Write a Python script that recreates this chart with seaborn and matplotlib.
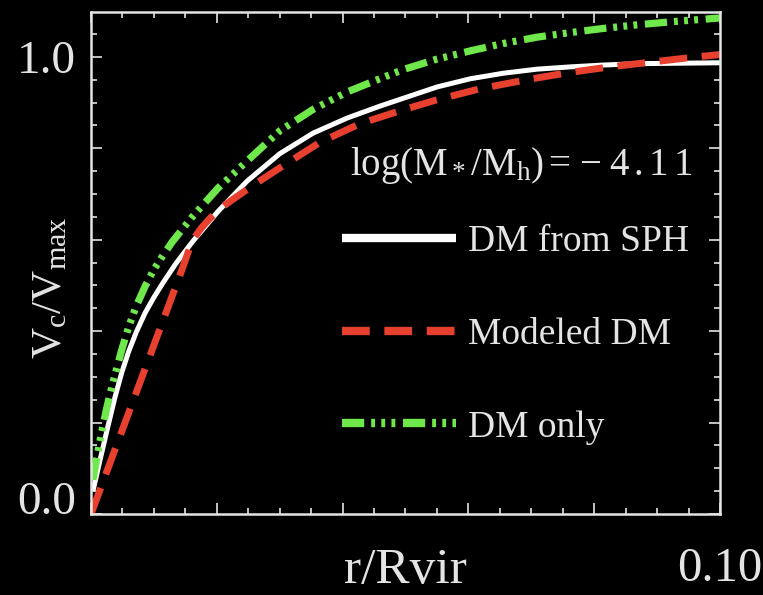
import numpy as np
import pandas as pd
import matplotlib
matplotlib.use("Agg")
import matplotlib.pyplot as plt
from matplotlib.ticker import FixedLocator, MultipleLocator, FixedFormatter
import seaborn as sns

# Circular velocity profiles, r/Rvir vs Vc/Vmax
r_sph = [0.0003, 0.0014, 0.0025, 0.0038, 0.0049, 0.0060, 0.0072, 0.0086, 0.0100,
         0.0115, 0.0135, 0.0161, 0.0202, 0.0248, 0.0300, 0.0353, 0.0407, 0.0459,
         0.0550, 0.0603, 0.0655, 0.0709, 0.0762, 0.0814, 0.0868, 0.0934, 0.1000]
v_sph = [0.050, 0.116, 0.181, 0.255, 0.310, 0.356, 0.398, 0.440, 0.474,
         0.507, 0.548, 0.595, 0.662, 0.728, 0.788, 0.833, 0.866, 0.892,
         0.934, 0.952, 0.964, 0.973, 0.978, 0.982, 0.985, 0.986, 0.987]

r_model = [0.0, 0.0033, 0.0059, 0.0086, 0.0118, 0.0145, 0.0161, 0.0175, 0.0190,
           0.0215, 0.0243, 0.0270, 0.0300, 0.0364, 0.0428, 0.0496, 0.0550, 0.0618,
           0.0693, 0.0762, 0.0825, 0.0894, 0.0963, 0.1000]
v_model = [0.0, 0.122, 0.218, 0.318, 0.436, 0.536, 0.598, 0.625, 0.648,
           0.678, 0.705, 0.730, 0.757, 0.813, 0.854, 0.884, 0.906, 0.930,
           0.950, 0.966, 0.978, 0.989, 1.000, 1.005]

r_dmo = [0.0003, 0.0010, 0.0017, 0.0025, 0.0033, 0.0049, 0.0060, 0.0072, 0.0086,
         0.0100, 0.0115, 0.0129, 0.0161, 0.0202, 0.0248, 0.0300, 0.0353, 0.0407,
         0.0459, 0.0496, 0.0550, 0.0603, 0.0655, 0.0709, 0.0762, 0.0814, 0.0868,
         0.0934, 0.1000]
v_dmo = [0.075, 0.130, 0.180, 0.232, 0.278, 0.360, 0.410, 0.455, 0.498,
         0.535, 0.567, 0.595, 0.650, 0.713, 0.772, 0.838, 0.885, 0.923,
         0.952, 0.972, 0.995, 1.013, 1.029, 1.043, 1.053, 1.062, 1.070,
         1.078, 1.085]

labels = ["DM from SPH", "Modeled DM", "DM only"]
colors = ["#ffffff", "#e8402f", "#6ee84a"]
annotation = r"log(M$_*$/M$_{\rm h}$)$\,$=$\;$$-$$\;$4$\,$.$\,$1$\,$1"

x_major = [0.0, 0.02, 0.04, 0.06, 0.08, 0.10]
x_ticklabels = ["", "", "", "", "", "0.10"]
y_major = [0.0, 0.2, 0.4, 0.6, 0.8, 1.0]
y_ticklabels = ["0.0", "", "", "", "", "1.0"]

fg = "#e4e4e4"
sns.set_theme(style="ticks", rc={
    "figure.facecolor": "black",
    "axes.facecolor": "black",
    "axes.edgecolor": fg,
    "axes.linewidth": 1.8,
    "text.color": fg,
    "axes.labelcolor": fg,
    "xtick.color": fg,
    "ytick.color": fg,
    "lines.scale_dashes": False,
})
plt.rcParams["font.family"] = ["Liberation Serif", "DejaVu Serif"]
plt.rcParams["mathtext.fontset"] = "custom"
plt.rcParams["mathtext.rm"] = "Liberation Serif"
plt.rcParams["mathtext.it"] = "Liberation Serif"

fig = plt.figure(figsize=(7.63, 5.95), dpi=100)
ax = fig.add_axes([0.1193, 0.1361, 0.8243, 0.8437])

df_sph = pd.DataFrame({"r": r_sph, "v": v_sph})
df_model = pd.DataFrame({"r": r_model, "v": v_model})
df_dmo = pd.DataFrame({"r": r_dmo, "v": v_dmo})

sns.lineplot(data=df_sph, x="r", y="v", ax=ax, color=colors[0], lw=3.6,
             label=labels[0], solid_capstyle="butt")
sns.lineplot(data=df_model, x="r", y="v", ax=ax, color=colors[1], lw=5.0,
             linestyle=(0, (20, 10.5)), label=labels[1])
sns.lineplot(data=df_dmo, x="r", y="v", ax=ax, color=colors[2], lw=5.2,
             linestyle=(0, (16, 5, 2.8, 4.5, 2.8, 4.5, 2.8, 5.5)), label=labels[2])

ax.set_xlim(0, 0.10)
ax.set_ylim(0, 1.098)

ax.xaxis.set_major_locator(FixedLocator(x_major))
ax.xaxis.set_major_formatter(FixedFormatter(x_ticklabels))
ax.xaxis.set_minor_locator(MultipleLocator(0.005))
ax.yaxis.set_major_locator(FixedLocator(y_major))
ax.yaxis.set_major_formatter(FixedFormatter(y_ticklabels))
ax.yaxis.set_minor_locator(MultipleLocator(0.05))

ax.tick_params(which="both", direction="in", top=True, right=True, width=1.2)
ax.tick_params(which="major", length=8)
ax.tick_params(which="minor", length=4.5)
ax.tick_params(axis="x", which="major", labelsize=35, pad=24)
ax.tick_params(axis="y", which="major", labelsize=34, pad=11)
yticks = ax.yaxis.get_major_ticks()
yticks[0].label1.set_va("baseline")
yticks[-1].label1.set_va("center_baseline")

ax.set_xlabel("r/Rvir", fontsize=37)
ax.xaxis.set_label_coords(0.5, -0.1375)
ax.xaxis.label.set_va("baseline")
ax.set_ylabel(r"V$_{\rm c}$/V$_{\rm max}$", fontsize=31)
ax.yaxis.set_label_coords(-0.064, 0.45)
ax.yaxis.label.set_va("center")

ax.text(0.412, 0.694, annotation, transform=ax.transAxes, fontsize=28,
        ha="left", va="center", color=fg)

leg = ax.legend(loc="upper left", bbox_to_anchor=(0.399, 0.576), frameon=False,
                fontsize=27, handlelength=3.04, handletextpad=0.33,
                labelspacing=1.55, borderpad=0, borderaxespad=0)
for line in leg.get_lines():
    line.set_linewidth(6.0)
for text in leg.get_texts():
    text.set_color(fg)

fig.savefig("out.png", dpi=100, facecolor="black")
